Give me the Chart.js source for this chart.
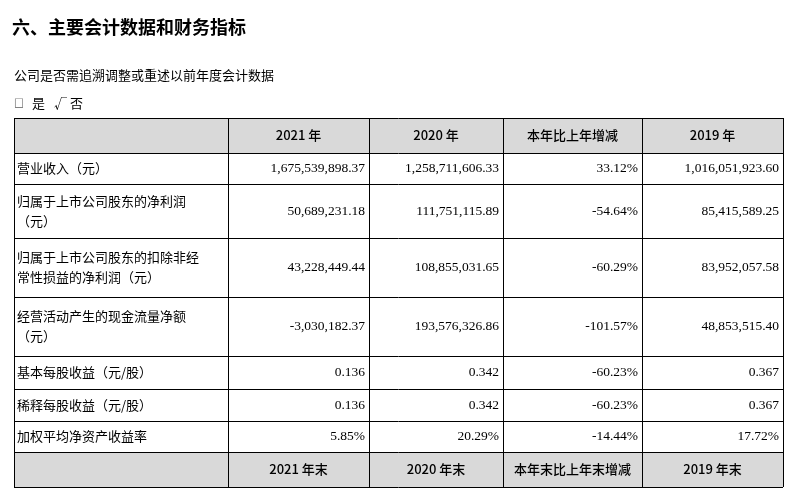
<!DOCTYPE html>
<html><head><meta charset="utf-8">
<script src="https://cdn.jsdelivr.net/npm/chart.js@4"></script>
<style>body{margin:0;background:#fff}canvas{display:block}</style>
</head><body>
<canvas id="myChart" width="790" height="495"></canvas>
<script>
const title = '六、主要会计数据和财务指标';
const note = '公司是否需追溯调整或重述以前年度会计数据';
const choice = ['□', '是', '√', '否'];
const headers = ['', '2021 年', '2020 年', '本年比上年增减', '2019 年'];
const footHeaders = ['', '2021 年末', '2020 年末', '本年末比上年末增减', '2019 年末'];
const rowLabels = [
    ['营业收入（元）'],
    ['归属于上市公司股东的净利润', '（元）'],
    ['归属于上市公司股东的扣除非经', '常性损益的净利润（元）'],
    ['经营活动产生的现金流量净额', '（元）'],
    ['基本每股收益（元/股）'],
    ['稀释每股收益（元/股）'],
    ['加权平均净资产收益率']
];
const y2021 = ['1,675,539,898.37', '50,689,231.18', '43,228,449.44', '-3,030,182.37', '0.136', '0.136', '5.85%'];
const y2020 = ['1,258,711,606.33', '111,751,115.89', '108,855,031.65', '193,576,326.86', '0.342', '0.342', '20.29%'];
const change = ['33.12%', '-54.64%', '-60.29%', '-101.57%', '-60.23%', '-60.23%', '-14.44%'];
const y2019 = ['1,016,051,923.60', '85,415,589.25', '83,952,057.58', '48,853,515.40', '0.367', '0.367', '17.72%'];

// layout (page units)
const colEdges = [14, 228, 369, 503, 642, 783];
const rowEdges = [118, 153, 184, 238, 297, 356, 389, 421, 452, 487];
const choiceX = [14, 32, 54, 70];

const cjk = '"Noto Sans CJK SC", "Liberation Serif", serif';
const num = '"Liberation Serif", "Times New Roman", serif';

const tablePlugin = {
    id: 'table',
    afterDraw(chart) {
        const ctx = chart.ctx, sx = chart.scales.x, sy = chart.scales.y;
        const X = (v) => sx.getPixelForValue(v), Y = (v) => sy.getPixelForValue(v);
        ctx.save();
        ctx.fillStyle = '#000';
        ctx.textBaseline = 'middle';
        ctx.font = 'bold 18px ' + cjk;
        ctx.fillText(title, X(12), Y(27));
        ctx.font = '13px ' + cjk;
        ctx.fillText(note, X(14), Y(75));
        choice.forEach((c, i) => {
            ctx.font = (i === 0 ? '10px ' : '13px ') + cjk;
            ctx.fillText(c, X(choiceX[i]), Y(103));
        });

        const last = rowEdges.length - 1;
        ctx.fillStyle = '#d9d9d9';
        ctx.fillRect(X(colEdges[0]), Y(rowEdges[0]), X(colEdges[5]) - X(colEdges[0]), Y(rowEdges[1]) - Y(rowEdges[0]));
        ctx.fillRect(X(colEdges[0]), Y(rowEdges[last - 1]), X(colEdges[5]) - X(colEdges[0]), Y(rowEdges[last]) - Y(rowEdges[last - 1]));

        ctx.strokeStyle = '#000';
        ctx.lineWidth = 1;
        rowEdges.forEach((r) => {
            ctx.beginPath(); ctx.moveTo(X(colEdges[0]), Y(r) + 0.5); ctx.lineTo(X(colEdges[5]), Y(r) + 0.5); ctx.stroke();
        });
        colEdges.forEach((c) => {
            ctx.beginPath(); ctx.moveTo(X(c) + 0.5, Y(rowEdges[0])); ctx.lineTo(X(c) + 0.5, Y(rowEdges[last])); ctx.stroke();
        });

        ctx.fillStyle = '#000';
        const header = (list, r) => {
            const cy = (Y(rowEdges[r]) + Y(rowEdges[r + 1])) / 2;
            list.forEach((h, i) => {
                if (!h) return;
                ctx.font = '500 13px ' + cjk;
                ctx.textAlign = 'center';
                ctx.fillText(h, (X(colEdges[i]) + X(colEdges[i + 1])) / 2, cy);
            });
        };
        header(headers, 0);
        header(footHeaders, last - 1);

        const cols = [y2021, y2020, change, y2019];
        rowLabels.forEach((lab, i) => {
            const top = Y(rowEdges[i + 1]), bot = Y(rowEdges[i + 2]);
            const cy = (top + bot) / 2;
            ctx.textAlign = 'left';
            ctx.font = '13px ' + cjk;
            if (lab.length === 1) ctx.fillText(lab[0], X(colEdges[0]) + 3, cy);
            else { ctx.fillText(lab[0], X(colEdges[0]) + 3, cy - 10); ctx.fillText(lab[1], X(colEdges[0]) + 3, cy + 10); }
            ctx.textAlign = 'right';
            ctx.font = '13.5px ' + num;
            cols.forEach((c, j) => ctx.fillText(c[i], X(colEdges[j + 2]) - 4, cy));
        });
        ctx.restore();
    }
};

const config = {
    type: 'scatter',
    data: { datasets: [{ data: [] }] },
    options: {
        responsive: false,
        animation: false,
        layout: { padding: 0 },
        plugins: { legend: { display: false }, tooltip: { enabled: false } },
        scales: {
            x: { type: 'linear', min: 0, max: 790, display: false },
            y: { type: 'linear', min: 0, max: 495, reverse: true, display: false }
        }
    },
    plugins: [tablePlugin]
};

let myChart = new Chart(document.getElementById('myChart'), config);
</script>
</body></html>
